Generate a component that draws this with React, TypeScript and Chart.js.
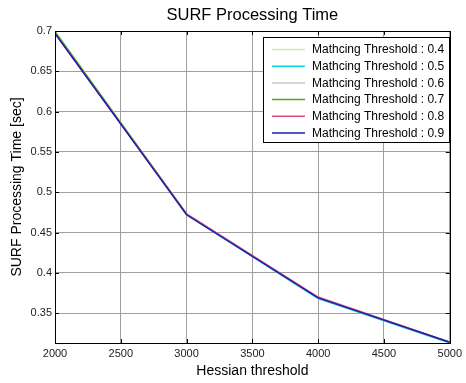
import React, { useEffect, useRef } from "react";
import { Chart, registerables } from "chart.js";

Chart.register(...registerables);

const hessian = [2000, 3000, 4000, 5000];
const seriesNames = [
  "Mathcing Threshold : 0.4",
  "Mathcing Threshold : 0.5",
  "Mathcing Threshold : 0.6",
  "Mathcing Threshold : 0.7",
  "Mathcing Threshold : 0.8",
  "Mathcing Threshold : 0.9",
];
const t04 = [0.7, 0.473, 0.369, 0.314];
const t05 = [0.698, 0.472, 0.368, 0.313];
const t06 = [0.698, 0.473, 0.369, 0.314];
const t07 = [0.699, 0.473, 0.369, 0.314];
const t08 = [0.697, 0.473, 0.37, 0.314];
const t09 = [0.697, 0.472, 0.369, 0.314];
const seriesValues = [t04, t05, t06, t07, t08, t09];
const seriesColors = ["#c8f0a0", "#00d8f0", "#c4cccc", "#4ca81c", "#e0507c", "#1c1cb4"];
const yTicks = [0.35, 0.4, 0.45, 0.5, 0.55, 0.6, 0.65, 0.7];
const xTicks = [2000, 2500, 3000, 3500, 4000, 4500, 5000];
const yMin = 0.313;
const yMax = 0.7;

const FONT = "Arial, 'Liberation Sans', sans-serif";

const framePlugin = {
  id: "matlabFrame",
  afterDraw(chart: any) {
    const ctx = chart.ctx;
    const { left, right, top, bottom } = chart.chartArea;
    const xs = chart.scales.x;
    const ys = chart.scales.y;
    ctx.save();
    ctx.strokeStyle = "#000";
    ctx.lineWidth = 1;
    ctx.strokeRect(Math.round(left) + 0.5, Math.round(top) + 0.5, Math.round(right - left), Math.round(bottom - top));
    ctx.beginPath();
    xTicks.forEach((v) => {
      const px = Math.round(xs.getPixelForValue(v)) + 0.5;
      ctx.moveTo(px, bottom);
      ctx.lineTo(px, bottom - 4);
      ctx.moveTo(px, top);
      ctx.lineTo(px, top + 4);
    });
    yTicks.forEach((v) => {
      const py = Math.round(ys.getPixelForValue(v)) + 0.5;
      ctx.moveTo(left, py);
      ctx.lineTo(left + 4, py);
      ctx.moveTo(right, py);
      ctx.lineTo(right - 4, py);
    });
    ctx.stroke();

    ctx.fillStyle = "#000";
    ctx.font = `16.5px ${FONT}`;
    ctx.textAlign = "center";
    ctx.textBaseline = "middle";
    ctx.fillText("SURF Processing Time", (left + right) / 2, 15);
    ctx.font = `14px ${FONT}`;
    ctx.fillText("Hessian threshold", (left + right) / 2, 371);
    ctx.save();
    ctx.translate(17, (top + bottom) / 2);
    ctx.rotate(-Math.PI / 2);
    ctx.fillText("SURF Processing Time [sec]", 0, 0);
    ctx.restore();

    const bx = 263.5, by = 37.5, bw = 186, bh = 105;
    ctx.fillStyle = "#fff";
    ctx.fillRect(bx, by, bw, bh);
    ctx.strokeStyle = "#000";
    ctx.strokeRect(bx, by, bw, bh);
    ctx.font = `12px ${FONT}`;
    ctx.textAlign = "left";
    ctx.textBaseline = "middle";
    seriesNames.forEach((name, i) => {
      const ry = 49.5 + i * 16.7;
      ctx.strokeStyle = seriesColors[i];
      ctx.lineWidth = 1.5;
      ctx.beginPath();
      ctx.moveTo(272, ry);
      ctx.lineTo(305, ry);
      ctx.stroke();
      ctx.fillStyle = "#000";
      ctx.fillText(name, 312, ry + 0.5);
    });
    ctx.restore();
  },
};

export default function App() {
  const ref = useRef<HTMLCanvasElement>(null);
  useEffect(() => {
    document.body.style.margin = "0";
    const canvas = ref.current!;
    const n = seriesNames.length;
    const chart = new Chart(canvas, {
      type: "line",
      data: {
        datasets: seriesNames.map((name, i) => ({
          label: name,
          data: hessian.map((h, j) => ({ x: h, y: seriesValues[i][j] })),
          borderColor: seriesColors[i],
          backgroundColor: seriesColors[i],
          borderWidth: 1.5,
          pointRadius: 0,
          tension: 0,
          fill: false,
          order: n - 1 - i,
        })),
      },
      options: {
        animation: false,
        responsive: false,
        maintainAspectRatio: false,
        layout: { padding: { top: 31, right: 13, left: 0, bottom: 0 } },
        plugins: {
          legend: { display: false },
          title: { display: false },
          tooltip: { enabled: false },
        },
        scales: {
          x: {
            type: "linear",
            min: 2000,
            max: 5000,
            afterBuildTicks: (s: any) => {
              s.ticks = xTicks.map((v) => ({ value: v }));
            },
            afterFit: (s: any) => {
              s.height = 40;
            },
            ticks: {
              padding: 4,
              color: "#222",
              font: { family: FONT, size: 11 },
              callback: (v: any) => String(v),
            },
            grid: { color: "#a0a0a0", lineWidth: 1, tickLength: 0, drawTicks: false },
            border: { display: false },
          },
          y: {
            type: "linear",
            min: yMin,
            max: yMax,
            afterBuildTicks: (s: any) => {
              s.ticks = yTicks.map((v) => ({ value: v }));
            },
            afterFit: (s: any) => {
              s.width = 55;
            },
            ticks: {
              padding: 3,
              color: "#222",
              font: { family: FONT, size: 11 },
              callback: (v: any) => String(Math.round(v * 100) / 100),
            },
            grid: { color: "#a0a0a0", lineWidth: 1, tickLength: 0, drawTicks: false },
            border: { display: false },
          },
        },
      },
      plugins: [framePlugin],
    });
    return () => chart.destroy();
  }, []);
  return (
    <div style={{ width: 466, height: 383, background: "#fff" }}>
      <canvas ref={ref} width={466} height={383} style={{ display: "block" }} />
    </div>
  );
}
